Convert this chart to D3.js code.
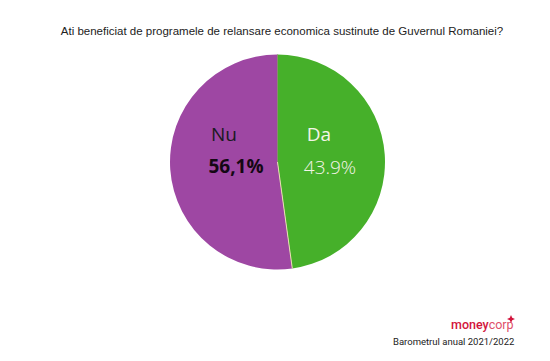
<!DOCTYPE html>
<html><head><meta charset="utf-8">
<script src="https://cdn.jsdelivr.net/npm/d3@7"></script>
<style>body{margin:0;background:#fff}svg{display:block}</style>
</head><body>
<svg id="c" width="550" height="361"></svg>
<script>
const title = "Ati beneficiat de programele de relansare economica sustinute de Guvernul Romaniei?";
const categories = ["Da", "Nu"];
const sliceValues = [47.8, 52.2];        // drawn slice sizes
const valueLabels = ["43.9%", "56,1%"];  // printed labels
const colors = ["#46b02a", "#9e47a3"];
const footer = "Barometrul anual 2021/2022";

const svg = d3.select("#c");
const cx = 277.5, cy = 162, r = 107.5;

svg.append("text").attr("x", 282).attr("y", 35).attr("text-anchor", "middle")
  .attr("font-family", "Liberation Sans, Arial, sans-serif").attr("font-size", 11.5).attr("fill", "#222")
  .text(title);

const pie = d3.pie().sort(null).value(d => d)(sliceValues);
const arc = d3.arc().innerRadius(0).outerRadius(r);
const g = svg.append("g").attr("transform", `translate(${cx},${cy})`);
g.selectAll("path.s").data(pie).join("path").attr("class", "s")
  .attr("d", arc).attr("fill", (d, i) => colors[i]);
// slice boundaries
pie.forEach((d, i) => {
  const a = d.startAngle;
  g.append("line").attr("x1", 0).attr("y1", 0)
    .attr("x2", r * Math.sin(a)).attr("y2", -r * Math.cos(a))
    .attr("stroke", i === 0 ? "#8a8a70" : "#e8e0b0").attr("stroke-width", 1);
});

// labels
const lab = [
  {name: [319, 141], val: [330, 174], nameFill: "#f4f4e8", valFill: "#f4f4e8", w: 300},
  {name: [224, 141], val: [236, 173], nameFill: "#1a1a22", valFill: "#140814", w: 700}
];
categories.forEach((c, i) => {
  const L = lab[i];
  svg.append("text").attr("x", L.name[0]).attr("y", L.name[1]).attr("text-anchor", "middle")
    .attr("font-family", "Open Sans, sans-serif").attr("font-size", 19).attr("fill", L.nameFill)
    .text(c);
  svg.append("text").attr("x", L.val[0]).attr("y", L.val[1]).attr("text-anchor", "middle")
    .attr("font-family", "Open Sans, sans-serif").attr("font-size", 19).attr("font-weight", L.w)
    .attr("fill", L.valFill).text(valueLabels[i]);
});

// logo
const logo = svg.append("text").attr("x", 451).attr("y", 329)
  .attr("font-family", "Roboto, sans-serif").attr("font-size", 12.5);
logo.append("tspan").attr("fill", "#d2143c").attr("font-weight", 500).text("money");
logo.append("tspan").attr("fill", "#e0506a").attr("font-weight", 400).text("corp");
const st = svg.append("g").attr("transform", "translate(511,319)");
st.append("path").attr("d", "M0,-4 L1.2,-1.2 L4,0 L1.2,1.2 L0,4 L-1.2,1.2 L-4,0 L-1.2,-1.2Z").attr("fill", "#d2143c");

svg.append("text").attr("x", 393).attr("y", 345)
  .attr("font-family", "Roboto, sans-serif").attr("font-size", 9.5).attr("fill", "#222")
  .text(footer);
</script>
</body></html>
